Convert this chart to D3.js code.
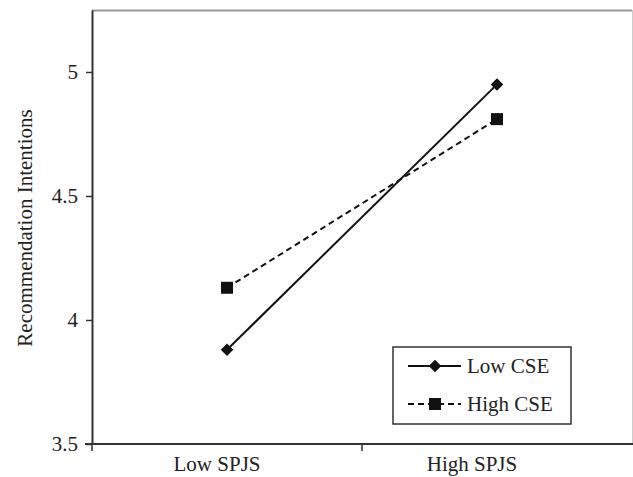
<!DOCTYPE html>
<html>
<head>
<meta charset="utf-8">
<script src="https://cdn.jsdelivr.net/npm/d3@7"></script>
<style>
  body { margin: 0; background: #fff; }
  svg text { font-family: "Liberation Serif", "Times New Roman", serif; fill: #222; }
</style>
</head>
<body>
<svg id="chart" width="633" height="477"></svg>
<script>
// data
var categories = ["Low SPJS", "High SPJS"];
var seriesNames = ["Low CSE", "High CSE"];
var lowCSE = [3.88, 4.95];
var highCSE = [4.13, 4.81];
var yTicks = [3.5, 4, 4.5, 5];

var svg = d3.select("#chart");
var mLeft = 92, mRight = 632, mTop = 10, mBottom = 444;
var fs = "21px";

var x = d3.scaleBand().domain(categories).range([mLeft, mRight]);
var y = d3.scaleLinear().domain([3.5, 5.25]).range([mBottom, mTop]);

// plot frame (top and right edges are light)
svg.append("line").attr("x1", mLeft).attr("x2", mRight).attr("y1", mTop + 0.5).attr("y2", mTop + 0.5)
  .style("stroke", "#999").style("stroke-width", 2);
svg.append("line").attr("x1", mRight + 0.5).attr("x2", mRight + 0.5).attr("y1", mTop).attr("y2", mBottom)
  .style("stroke", "#ccc").style("stroke-width", 1);

// y axis
var yAxis = svg.append("g").attr("transform", "translate(" + mLeft + ",0)")
  .call(d3.axisLeft(y).tickValues(yTicks).tickFormat(d3.format("")).tickSize(6).tickSizeOuter(0));
yAxis.select(".domain").style("stroke", "#333").style("stroke-width", 2);
yAxis.selectAll(".tick line").style("stroke", "#333").style("stroke-width", 1.5);
yAxis.selectAll(".tick text").attr("x", -14).style("font-size", fs)
  .style("font-family", "Liberation Serif");

// x axis
var xAxis = svg.append("g").attr("transform", "translate(0," + mBottom + ")")
  .call(d3.axisBottom(x).tickSize(0).tickSizeOuter(0));
xAxis.select(".domain").attr("d", "M" + (mLeft - 7) + ",0H" + 633).style("stroke", "#333").style("stroke-width", 2);
// labels sit a little left of the band centres in the original
xAxis.selectAll(".tick text").attr("y", 12).attr("dx", function (d, i) { return i ? -25 : -10; })
  .style("font-size", fs).style("font-family", "Liberation Serif");
// band boundary ticks
xAxis.selectAll(".bt").data([mLeft, x(categories[1])]).enter().append("line")
  .attr("x1", function (d) { return d; }).attr("x2", function (d) { return d; })
  .attr("y1", 0).attr("y2", 7)
  .style("stroke", "#333").style("stroke-width", 1.5);

// y axis title
svg.append("text")
  .attr("transform", "translate(32," + ((mTop + mBottom) / 2 + 1) + ") rotate(-90)")
  .attr("text-anchor", "middle")
  .style("font-size", fs)
  .text("Recommendation Intentions");

var cx = function (i) { return x(categories[i]) + x.bandwidth() / 2; };
var line = d3.line().x(function (d, i) { return cx(i); }).y(function (d) { return y(d); });

// High CSE (dashed, squares)
svg.append("path").datum(highCSE).attr("d", line)
  .style("fill", "none").style("stroke", "#111").style("stroke-width", 2)
  .style("stroke-dasharray", "6,4");
svg.selectAll(".sq").data(highCSE).enter().append("rect")
  .attr("x", function (d, i) { return cx(i) - 6; })
  .attr("y", function (d) { return y(d) - 6; })
  .attr("width", 12).attr("height", 12).style("fill", "#111");

// Low CSE (solid, diamonds)
svg.append("path").datum(lowCSE).attr("d", line)
  .style("fill", "none").style("stroke", "#111").style("stroke-width", 2);
var diamond = d3.symbol().type(d3.symbolDiamond2).size(100);
svg.selectAll(".dm").data(lowCSE).enter().append("path")
  .attr("d", diamond)
  .attr("transform", function (d, i) { return "translate(" + cx(i) + "," + y(d) + ")"; })
  .style("fill", "#111");

// legend
var lg = svg.append("g").attr("transform", "translate(393,347)");
lg.append("rect").attr("width", 178).attr("height", 77)
  .style("fill", "#fff").style("stroke", "#333").style("stroke-width", 1.5);
var rows = lg.selectAll(".row").data(seriesNames).enter().append("g")
  .attr("transform", function (d, i) { return "translate(0," + (19 + i * 38) + ")"; });
rows.append("line").attr("x1", 15).attr("x2", 68).attr("y1", 0).attr("y2", 0)
  .style("stroke", "#111").style("stroke-width", 2)
  .style("stroke-dasharray", function (d, i) { return i ? "6,4" : null; });
rows.filter(function (d, i) { return i === 0; }).append("path")
  .attr("d", diamond).attr("transform", "translate(42,0)").style("fill", "#111");
rows.filter(function (d, i) { return i === 1; }).append("rect")
  .attr("x", 36).attr("y", -6).attr("width", 12).attr("height", 12).style("fill", "#111");
rows.append("text").attr("x", 74).attr("y", 7).style("font-size", fs).text(function (d) { return d; });
</script>
</body>
</html>
